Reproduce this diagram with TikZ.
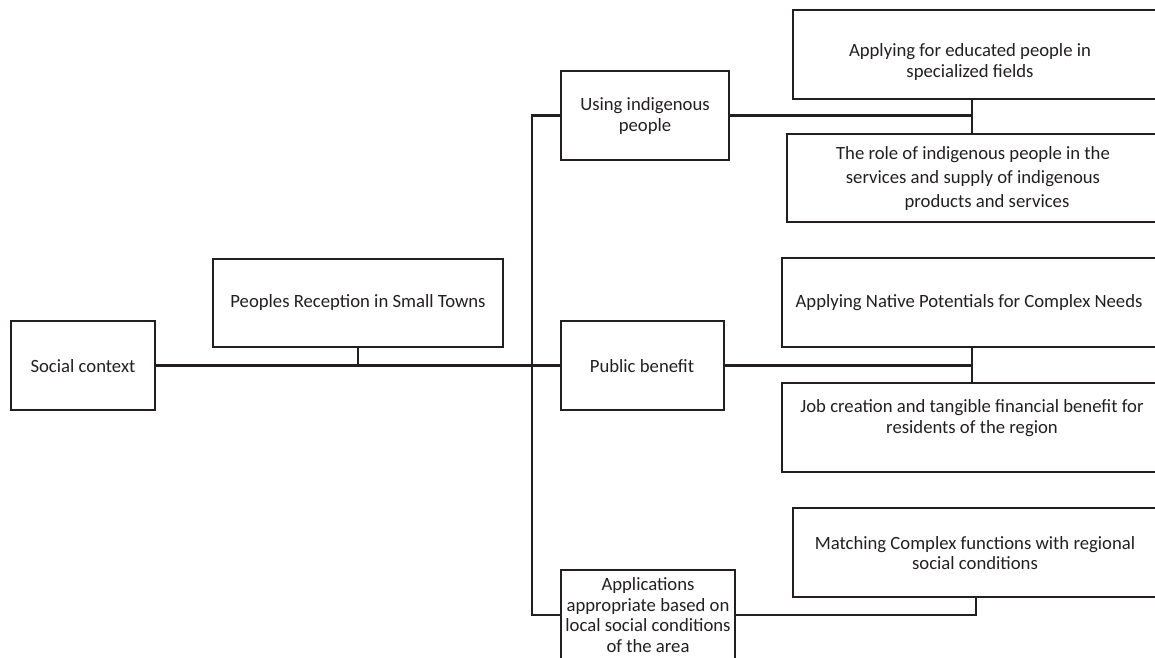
\documentclass[tikz,border=0pt]{standalone}
\usepackage{fontspec}
\setmainfont{Carlito}
\definecolor{ink}{HTML}{231F20}
\begin{document}
\begin{tikzpicture}[x=1pt,y=-1pt,
  box/.style={draw=ink, line width=2.2pt, inner sep=0pt, outer sep=0pt, anchor=north west},
  txt/.style={align=center, font=\fontsize{18.7}{20.5}\selectfont, text=ink, inner sep=0pt},
  conn/.style={draw=ink, line width=2.4pt}]
\useasboundingbox (0,0) rectangle (1155,657);
\clip (0,0) rectangle (1155,657);
% boxes
\node[box, minimum width=144, minimum height=89] (soc) at (11,321) {};
\node[box, minimum width=290, minimum height=88] (peo) at (213,259) {};
\node[box, minimum width=168, minimum height=89] (use) at (561,71) {};
\node[box, minimum width=163, minimum height=89] (pub) at (561,321) {};
\node[box, minimum width=174, minimum height=100] (app) at (561,570) {};
\node[box, minimum width=380, minimum height=89] (a1) at (793,10) {};
\node[box, minimum width=386, minimum height=88] (a2) at (787,134) {};
\node[box, minimum width=391, minimum height=89] (b1) at (782,258) {};
\node[box, minimum width=391, minimum height=89] (b2) at (782,383) {};
\node[box, minimum width=380, minimum height=89] (c1) at (793,508) {};
% texts
\node[txt] (socT) at (83,366) {Social context};
\node[txt] (peoT) at (358,303) {Peoples Reception in Small Towns};
\node[txt] (useT) at (645,116) {Using indigenous\\people};
\node[txt] (pubT) at (642,366) {Public benefit};
\node[txt] (appT) at (648,615) {Applications\\appropriate based on\\local social conditions\\of the area};
\node[txt] (a1T) at (970,62) {Applying for educated people in\\specialized fields};
\node[txt, font=\fontsize{18.7}{24}\selectfont] (a2T) at (973,179) {The role of indigenous people in the\\services and supply of indigenous\\\hspace*{28pt}products and services};
\node[txt] (b1T) at (969,303) {Applying Native Potentials for Complex Needs};
\node[txt] (b2T) at (972,418) {Job creation and tangible financial benefit for\\residents of the region};
\node[txt] (c1T) at (975,553) {Matching Complex functions with regional\\social conditions};
% junction coordinates
\coordinate (tTop) at (532,115.5);
\coordinate (tBot) at (532,615);
\coordinate (jA) at (972,115.5);
\coordinate (jB) at (972,365.5);
\coordinate (jC) at (976,615);
% connectors
\draw[conn] (soc.east) -- (pub.west);
\draw[conn] (peo.south) -- (peo.south |- soc.east);
\draw[conn] (use.west) -- (tTop) -- (tBot) -- (tBot -| app.west);
\draw[conn] (use.east) -- (jA);
\draw[conn] (jA |- a1.south) -- (jA |- a2.north);
\draw[conn] (pub.east) -- (jB);
\draw[conn] (jB |- b1.south) -- (jB |- b2.north);
\draw[conn] (tBot -| app.east) -- (jC) -- (jC |- c1.south);
\end{tikzpicture}
\end{document}
